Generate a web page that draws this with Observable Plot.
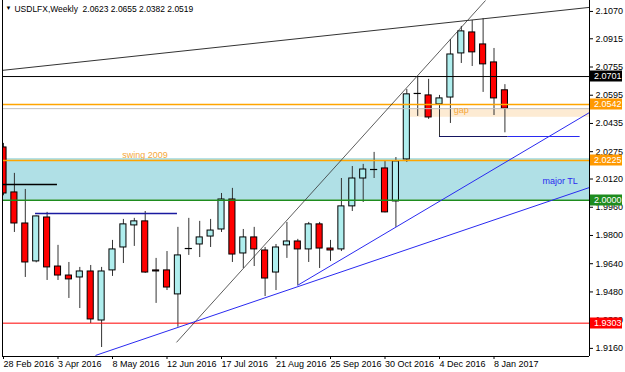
<!DOCTYPE html>
<html>
<head>
<meta charset="utf-8">
<script src="https://cdn.jsdelivr.net/npm/d3@7"></script>
<script src="https://cdn.jsdelivr.net/npm/@observablehq/plot@0.6"></script>
<style>
  html, body { margin: 0; padding: 0; background: #fff; }
  svg { display: block; }
</style>
</head>
<body>
<div id="chart"></div>
<script>
// ---- data ----
const title = "USDLFX,Weekly\u00A0\u00A02.0623 2.0655 2.0382 2.0519";
const labelWeeks = [0, 5, 10, 15, 20, 25, 30, 35, 40, 45];
const weekLabels = ["28 Feb 2016", "3 Apr 2016", "8 May 2016", "12 Jun 2016", "17 Jul 2016",
  "21 Aug 2016", "25 Sep 2016", "30 Oct 2016", "4 Dec 2016", "8 Jan 2017"];
const yTicks = [2.1070, 2.0915, 2.0755, 2.0595, 2.0435, 2.0275, 2.0120, 1.9960, 1.9800, 1.9640, 1.9480, 1.9320, 1.9160];

const open = [2.0299, 2.0044, 1.9868, 1.9653, 1.9902, 1.9624, 1.9573, 1.9562, 1.9596, 1.9318,
  1.9602, 1.9732, 1.9857, 1.9880, 1.9602, 1.9602, 1.9466, 1.9726, 1.9749, 1.9794,
  1.9834, 2.0004, 1.9698, 1.9789, 1.9715, 1.9590, 1.9744, 1.9766, 1.9721, 1.9863,
  1.9726, 1.9721, 1.9965, 2.0123, 2.0174, 2.0180, 1.9993, 2.0231, 2.0605, 2.0594,
  2.0543, 2.0582, 2.0832, 2.0951, 2.0883, 2.0781, 2.0623];
const high = [2.0322, 2.0152, 2.0061, 1.9910, 1.9931, 1.9744, 1.9647, 1.9619, 1.9630, 1.9619,
  1.9772, 1.9891, 1.9897, 1.9936, 1.9670, 1.9709, 1.9846, 1.9897, 1.9880, 1.9891,
  2.0038, 2.0067, 1.9834, 1.9846, 1.9732, 1.9749, 1.9874, 1.9778, 1.9874, 1.9874,
  1.9772, 2.0123, 2.0191, 2.0203, 2.0271, 2.0220, 2.0242, 2.0628, 2.0696, 2.0685,
  2.0594, 2.0911, 2.0985, 2.1019, 2.1030, 2.0860, 2.0655];
const low = [2.0025, 1.9817, 1.9562, 1.9645, 1.9545, 1.9545, 1.9443, 1.9386, 1.9301, 1.9165,
  1.9568, 1.9641, 1.9738, 1.9585, 1.9415, 1.9488, 1.9280, 1.9687, 1.9675, 1.9732,
  1.9817, 1.9647, 1.9613, 1.9624, 1.9454, 1.9488, 1.9670, 1.9517, 1.9647, 1.9613,
  1.9653, 1.9709, 1.9936, 1.9987, 2.0123, 1.9928, 1.9846, 2.0214, 2.0475, 2.0458,
  2.0356, 2.0435, 2.0775, 2.0758, 2.0611, 2.0480, 2.0382];
const close = [2.0038, 1.9868, 1.9647, 1.9908, 1.9619, 1.9573, 1.9551, 1.9596, 1.9324, 1.9596,
  1.9721, 1.9863, 1.9880, 1.9590, 1.9596, 1.9505, 1.9687, 1.9726, 1.9789, 1.9828,
  2.0004, 1.9692, 1.9789, 1.9721, 1.9556, 1.9732, 1.9766, 1.9721, 1.9863, 1.9726,
  1.9715, 1.9965, 2.0123, 2.0174, 2.0174, 1.9931, 2.0220, 2.0600, 2.0605, 2.0469,
  2.0577, 2.0826, 2.0957, 2.0838, 2.0770, 2.0577, 2.0519];

// horizontal price levels
const levelValues = [2.0701, 2.0542, 2.0519, 2.0225, 2.0000, 1.9303];
// zone and gap (price ranges)
const zone = [2.0000, 2.0236];
const gapZone = {from: 37.3, lo: 2.0470, hi: 2.0520};
// trend lines: [week1, price1, week2, price2]
const trendLines = [
  [-0.09, 2.0736, 53.76, 2.1093],
  [15.87, 1.9194, 44.22, 2.1132],
  [8.44, 1.9120, 53.76, 2.0072],
  [26.97, 1.9517, 53.76, 2.0497]
];
// short horizontal segments: [week1, week2, price]
const segments = [
  [-0.09, 4.95, 2.0089],
  [2.94, 15.96, 1.9925],
  [40.0, 46.3, 2.0361],
  [46.3, 52.9, 2.0361]
];
const notes = [
  {text: "swing 2009", week: 10.9, price: 2.0225},
  {text: "major TL", week: 49.45, price: 2.0089},
  {text: "gap", week: 41.3, price: 2.0492}
];

// ---- styles ----
const levelStyle = [
  {stroke: "#000000", w: 1},
  {stroke: "#FFA500", w: 1.5},
  {stroke: "#C0C0C0", w: 1},
  {stroke: "#FFA500", w: 1.5},
  {stroke: "#1E8C1E", w: 1.5},
  {stroke: "#FF0000", w: 1}
];
const labelFill = {0: "#000000", 1: "#FF9900", 3: "#FF9900", 4: "#1E8C1E", 5: "#FF0000"};
const trendStyle = [
  {stroke: "#333", w: 1},
  {stroke: "#333", w: 0.8},
  {stroke: "#2A2AF0", w: 1},
  {stroke: "#2A2AF0", w: 1}
];
const segStyle = [
  {stroke: "#000", w: 1.5},
  {stroke: "#1A1AA0", w: 1.5},
  {stroke: "#151560", w: 1},
  {stroke: "#2A2AF0", w: 1}
];
const noteStyle = [
  {fill: "#F5A83A", dy: -3},
  {fill: "#2A2AF0", dy: 0},
  {fill: "#F5A83A", dy: 0}
];

const W = 625, H = 372;
const mL = 2, mR = 36, mT = 0, mB = 16;
const xDomain = [-0.092, 53.76];
const yDomain = [1.9114, 2.1132];

const candles = open.map((o, i) => ({i, open: o, high: high[i], low: low[i], close: close[i]}));
const bodies = candles.filter(d => d.open !== d.close);
const dojis = candles.filter(d => d.open === d.close);
const hw = 0.28;
const fmt = d3.format(".4f");

const marks = [
  Plot.rect([zone], {x1: xDomain[0], x2: xDomain[1], y1: d => d[0], y2: d => d[1], fill: "#B0E0E6", clip: true}),
  Plot.rect([gapZone], {x1: d => d.from, x2: xDomain[1], y1: d => d.lo, y2: d => d.hi, fill: "#FDEBD3", clip: true}),
  Plot.ruleX(candles, {x: "i", y1: "low", y2: "high", stroke: "#333", strokeWidth: 1, clip: true}),
  Plot.rect(bodies, {x1: d => d.i - hw, x2: d => d.i + hw, y1: "open", y2: "close",
    fill: d => d.close > d.open ? "#AFEEEE" : "#FF0000", stroke: "#000", strokeWidth: 1, clip: true}),
  Plot.ruleY(dojis, {x1: d => d.i - hw - 0.05, x2: d => d.i + hw + 0.05, y: "open", stroke: "#000", strokeWidth: 1.2, clip: true}),
  ...levelValues.map((v, k) => Plot.ruleY([v], {stroke: levelStyle[k].stroke, strokeWidth: levelStyle[k].w})),
  ...trendLines.map((t, k) => Plot.link([t], {x1: d => d[0], y1: d => d[1], x2: d => d[2], y2: d => d[3],
    stroke: trendStyle[k].stroke, strokeWidth: trendStyle[k].w, clip: true})),
  ...segments.map((s, k) => Plot.ruleY([s], {x1: d => d[0], x2: d => d[1], y: d => d[2],
    stroke: segStyle[k].stroke, strokeWidth: segStyle[k].w, clip: true})),
  ...notes.map((n, k) => Plot.text([n], {x: "week", y: "price", text: "text", textAnchor: "start",
    lineAnchor: "bottom", dy: noteStyle[k].dy, fill: noteStyle[k].fill, fontSize: 9})),
  Plot.text(["\u25BC"], {text: d => d, frameAnchor: "top-left", dx: 3, dy: 5, textAnchor: "start", lineAnchor: "top", fontSize: 6, fill: "#000"}),
  Plot.text([title], {text: d => d, frameAnchor: "top-left", dx: 12, dy: 5, textAnchor: "start", lineAnchor: "top", fontSize: 9, fill: "#000"}),
  Plot.axisY(yTicks, {anchor: "right", tickSize: 3, tickPadding: 3, tickFormat: fmt, fontSize: 9}),
  Plot.axisX(labelWeeks, {anchor: "bottom", tickSize: 3, tickPadding: 1, textAnchor: "start",
    tickFormat: d => weekLabels[labelWeeks.indexOf(d)], fontSize: 9}),
  Plot.ruleX([xDomain[0]], {stroke: "#000"}),
  Plot.ruleX([xDomain[1]], {stroke: "#000"}),
  Plot.ruleY([yDomain[0]], {stroke: "#000"})
];

const plot = Plot.plot({
  width: W, height: H,
  marginLeft: mL, marginRight: mR, marginTop: mT, marginBottom: mB,
  x: {type: "linear", domain: xDomain},
  y: {type: "linear", domain: yDomain},
  style: {fontFamily: "'Liberation Sans', Arial, sans-serif", fontSize: "9px", background: "#fff", color: "#000"},
  marks
});

document.getElementById("chart").appendChild(plot);

// price labels on the right axis
const ys = plot.scale("y");
const svg = d3.select(plot);
const g = svg.append("g")
  .attr("font-family", "'Liberation Sans', Arial, sans-serif")
  .attr("font-size", 9)
  .attr("text-anchor", "start");
Object.keys(labelFill).forEach(k => {
  const v = levelValues[+k];
  const py = ys.apply(v);
  g.append("rect").attr("x", W - mR + 1).attr("y", Math.round(py) - 5.5).attr("width", 32).attr("height", 11).attr("fill", labelFill[k]);
  g.append("text").attr("x", W - mR + 5).attr("y", py).attr("dy", "0.35em").attr("fill", "#fff").text(fmt(v));
});

// fit the header line to the width it has in the reference (about 179px)
svg.selectAll("text").filter(function () { return this.textContent === title; }).each(function () {
  const len = this.getComputedTextLength();
  if (len > 0 && Math.abs(len - 179) > 6) {
    const fs = Math.max(8, Math.min(11, 9 * 179 / len));
    d3.select(this).attr("font-size", fs);
  }
});
</script>
</body>
</html>
